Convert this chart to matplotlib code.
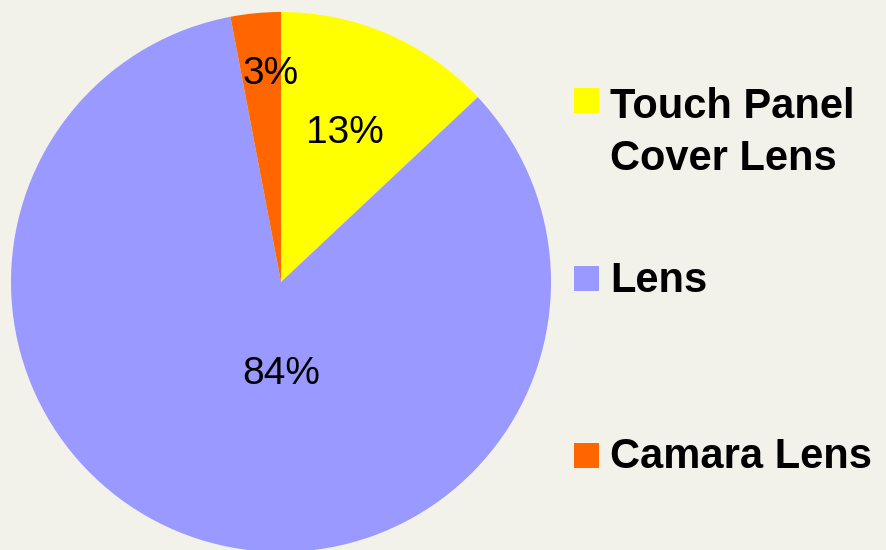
import matplotlib.pyplot as plt
from matplotlib.patches import Rectangle

# data
categories = ['Touch Panel\nCover Lens', 'Lens', 'Camara Lens']
shares = [13, 84, 3]
colors = ['#FFFF00', '#9999FF', '#FF6600']

W, H = 887, 550
fig = plt.figure(figsize=(W / 100, H / 100), dpi=100)
fig.patch.set_facecolor('#F2F2EB')

# pie axes: centre (281, 282) px, radius 270 px
cx, cy, r = 281, 282, 270
ax = fig.add_axes([(cx - r) / W, (H - cy - r) / H, 2 * r / W, 2 * r / H])
ax.set_aspect('equal')
wedges, texts, autotexts = ax.pie(shares, colors=colors, startangle=90, counterclock=False,
                                  autopct='%d%%', pctdistance=0.6,
                                  wedgeprops=dict(linewidth=0),
                                  textprops=dict(fontsize=28, family='Liberation Sans',
                                                 color='black'))
ax.set_xlim(-1, 1)
ax.set_ylim(-1, 1)
ax.axis('off')

# PowerPoint-style label placement
autotexts[1].set_position((0.0, -0.34))
autotexts[2].set_position((-0.04, 0.77))

# legend drawn by hand
sq_centres = [101, 278, 455]
baselines = [118, 292, 468]
for cat, col, yc, yb in zip(categories, colors, sq_centres, baselines):
    fig.patches.append(Rectangle((574 / W, 1 - (yc + 12.5) / H), 25 / W, 25 / H,
                                 transform=fig.transFigure, facecolor=col,
                                 edgecolor='none'))
    lines = cat.split('\n')
    for i, line in enumerate(lines):
        fig.text(610 / W, 1 - (yb + 52 * i) / H, line, fontsize=30, fontweight='bold',
                 family='Liberation Sans', va='baseline', ha='left')

fig.savefig('out.png', dpi=100, facecolor=fig.get_facecolor())
